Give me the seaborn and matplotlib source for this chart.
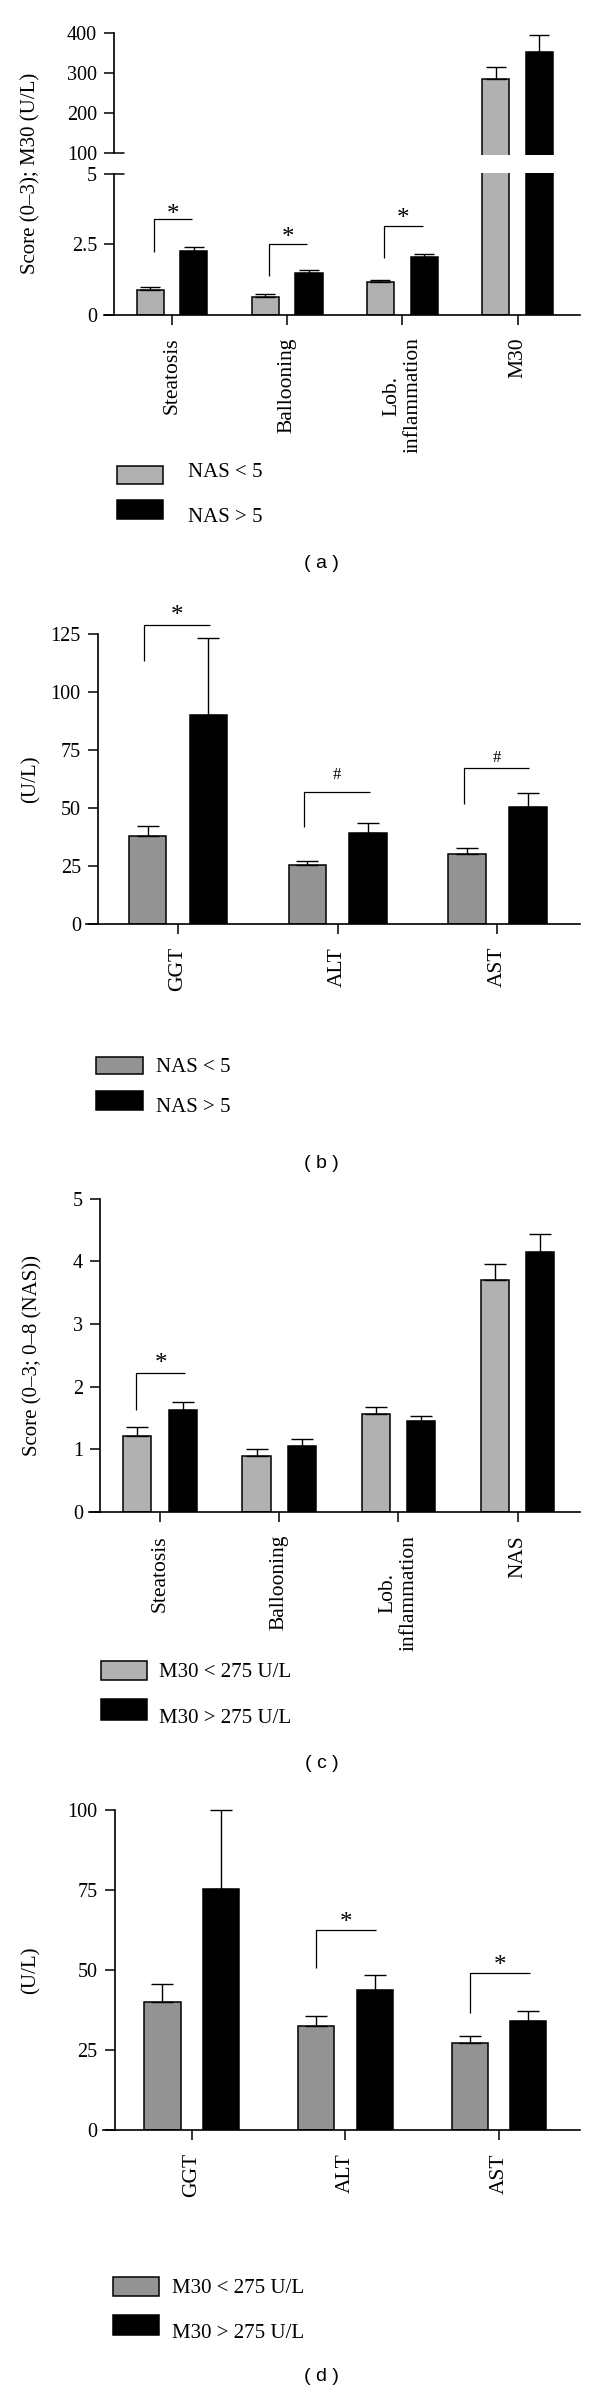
import numpy as np
import pandas as pd
import matplotlib
matplotlib.use("Agg")
import matplotlib.pyplot as plt
import seaborn as sns
from matplotlib.patches import Rectangle
from matplotlib.transforms import offset_copy

# ---------------- data ----------------
# (a) NAS groups: histology scores and M30
a_categories = ["Steatosis", "Ballooning", "Lob.\ninflammation", "M30"]
a_groups = ["NAS < 5", "NAS > 5"]
a_low_mean = [0.88, 0.63, 1.16, 284]
a_low_sem = [0.09, 0.09, 0.08, 30]
a_high_mean = [2.25, 1.49, 2.06, 351]
a_high_sem = [0.14, 0.09, 0.11, 43]
a_sig_cat = [0, 1, 2]
a_sig_bottom = [2.23, 1.36, 2.00]
a_sig_top = [3.38, 2.49, 3.13]
a_sig_mark = ["*", "*", "*"]

# (b) NAS groups: liver enzymes
b_categories = ["GGT", "ALT", "AST"]
b_groups = ["NAS < 5", "NAS > 5"]
b_low_mean = [37.8, 25.3, 30.2]
b_low_sem = [4.3, 1.9, 2.5]
b_high_mean = [90.2, 39.3, 50.5]
b_high_sem = [33.2, 4.3, 5.9]
b_sig_cat = [0, 1, 2]
b_sig_bottom = [113.6, 42.0, 51.9]
b_sig_top = [129.0, 57.1, 67.5]
b_sig_mark = ["*", "#", "#"]

# (c) M30 groups: histology scores and NAS
c_categories = ["Steatosis", "Ballooning", "Lob.\ninflammation", "NAS"]
c_groups = ["M30 < 275 U/L", "M30 > 275 U/L"]
c_low_mean = [1.22, 0.89, 1.56, 3.71]
c_low_sem = [0.14, 0.12, 0.11, 0.24]
c_high_mean = [1.62, 1.05, 1.45, 4.15]
c_high_sem = [0.14, 0.12, 0.09, 0.28]
c_sig_cat = [0]
c_sig_bottom = [1.63]
c_sig_top = [2.22]
c_sig_mark = ["*"]

# (d) M30 groups: liver enzymes
d_categories = ["GGT", "ALT", "AST"]
d_groups = ["M30 < 275 U/L", "M30 > 275 U/L"]
d_low_mean = [40.0, 32.6, 27.3]
d_low_sem = [5.5, 3.0, 2.1]
d_high_mean = [75.4, 43.8, 34.1]
d_high_sem = [24.6, 4.5, 3.2]
d_sig_cat = [1, 2]
d_sig_bottom = [50.5, 36.7]
d_sig_top = [62.5, 49.1]
d_sig_mark = ["*", "*"]

# ---------------- style ----------------
sns.set_style("ticks")
plt.rcParams["font.family"] = ["Liberation Serif", "DejaVu Serif"]
plt.rcParams["axes.edgecolor"] = "black"
plt.rcParams["xtick.color"] = "black"
plt.rcParams["ytick.color"] = "black"
plt.rcParams["text.color"] = "black"

W, H = 600, 2394
fig = plt.figure(figsize=(W / 100, H / 100), dpi=100)
fig.patch.set_facecolor("white")

LIGHT = "#b1b1b1"
MID = "#939393"
TICK_FS = 14.5
CAT_FS = 15.5
LAB_FS = 15
LEG_FS = 15


def px_ax(x0, top, x1, bottom):
    return fig.add_axes([x0 / W, 1 - bottom / H, (x1 - x0) / W, (bottom - top) / H])


def draw_bars(ax, cats, groups, m1, s1, m2, s2, gray, capsize, clip=True):
    n = len(cats)
    df = pd.DataFrame({
        "cat": list(cats) * 2,
        "grp": [groups[0]] * n + [groups[1]] * n,
        "val": list(m1) + list(m2),
    })
    sns.barplot(data=df, x="cat", y="val", hue="grp", order=cats, hue_order=groups,
                palette=[gray, "black"], saturation=1, width=0.76, gap=0.38,
                edgecolor="black", linewidth=1.1, errorbar=None, legend=False, ax=ax)
    for cont, sems in zip(ax.containers, [s1, s2]):
        xs = [b.get_x() + b.get_width() / 2 for b in cont]
        hs = [b.get_height() for b in cont]
        ax.errorbar(xs, hs, yerr=[np.zeros(n), sems], fmt="none", ecolor="black",
                    elinewidth=1.0, capsize=capsize, capthick=1.0, clip_on=clip, zorder=3)
    ax.set_xlabel("")
    ax.set_ylabel("")


def style_ax(ax, xlim, ylim, bounds, yticks, yticklabels, show_x=True, cats=None):
    ax.set_xlim(*xlim)
    ax.set_ylim(*ylim)
    ax.set_facecolor("none")
    ax.grid(False)
    for s in ["top", "right"]:
        ax.spines[s].set_visible(False)
    ax.spines["left"].set_position(("data", -0.5))
    ax.spines["left"].set_bounds(*bounds)
    ax.spines["left"].set_linewidth(1.2)
    ax.spines["bottom"].set_linewidth(1.2)
    ax.set_yticks(yticks)
    ax.set_yticklabels(yticklabels, fontsize=TICK_FS)
    ax.tick_params(axis="y", length=7.5, width=1.1, pad=5, direction="out")
    if show_x:
        ax.set_xticks(range(len(cats)))
        ax.set_xticklabels(cats, rotation=90, ha="center", va="top",
                           multialignment="center", fontsize=CAT_FS)
        ax.tick_params(axis="x", length=7.5, width=1.1, pad=9, direction="out")
    else:
        ax.spines["bottom"].set_visible(False)
        ax.set_xticks([])


def brackets(ax, cats_idx, bottoms, tops, x0, x1):
    for c, yb, yt in zip(cats_idx, bottoms, tops):
        ax.plot([c + x0, c + x0, c + x1], [yb, yt, yt], color="black", lw=0.9,
                clip_on=False, zorder=4, solid_capstyle="butt")


def sig_marks(ax, cats_idx, tops, marks, x0, x1, gaps):
    # gaps: vertical distance (in data units) from bracket line to glyph centre
    for c, yt, mk, g in zip(cats_idx, tops, marks, gaps):
        if mk == "*":
            fs, cfrac = 18, 0.47
        else:
            fs, cfrac = 12, 0.34
        tr = offset_copy(ax.transData, fig=fig, y=-cfrac * fs, units="points")
        ax.text(c + (x0 + x1) / 2, yt + g, mk, transform=tr, ha="center",
                va="baseline", fontsize=fs, clip_on=False, zorder=4)


def legend_px(rects, colors, labels, tx, centers):
    em = LEG_FS * 100 / 72
    for (x0, y0, x1, y1), col in zip(rects, colors):
        fig.add_artist(Rectangle((x0 / W, 1 - y1 / H), (x1 - x0) / W, (y1 - y0) / H,
                                 transform=fig.transFigure, facecolor=col,
                                 edgecolor="black", lw=1.1))
    for lab, yc in zip(labels, centers):
        fig.text(tx / W, 1 - (yc + 0.331 * em) / H, lab, ha="left", va="baseline",
                 fontsize=LEG_FS)


def caption(txt, xc, yc):
    fig.text(xc / W, 1 - yc / H, txt, ha="center", va="center", fontsize=14,
             family=["Liberation Sans", "DejaVu Sans"])


def ylabel(txt, xc, yc):
    fig.text(xc / W, 1 - yc / H, txt, ha="center", va="center", rotation=90,
             fontsize=LAB_FS)


# ---------------- panel (a): broken axis ----------------
ax_up = px_ax(104, 32.7, 580, 155.1)
ax_lo = px_ax(104, 172.6, 580, 314.7)
for ax in (ax_up, ax_lo):
    draw_bars(ax, a_categories, a_groups, a_low_mean, a_low_sem, a_high_mean, a_high_sem,
              LIGHT, capsize=7.0, clip=True)
style_ax(ax_up, (-0.59, 3.542), (94, 400), (100, 400), [100, 200, 300, 400],
         ["100", "200", "300", "400"], show_x=False)
style_ax(ax_lo, (-0.59, 3.542), (0, 5.04), (0, 5), [0, 2.5, 5], ["0", "2.5", "5"],
         show_x=True, cats=a_categories)
# axis-break marks
ax_up.plot([-0.5, -0.42], [100, 100], color="black", lw=1.1, clip_on=False)
ax_lo.plot([-0.5, -0.42], [5, 5], color="black", lw=1.1, clip_on=False)
brackets(ax_lo, a_sig_cat, a_sig_bottom, a_sig_top, -0.16, 0.175)
sig_marks(ax_lo, a_sig_cat, a_sig_top, a_sig_mark, -0.16, 0.175, [0.355, 0.45, 0.46])
ylabel("Score (0–3); M30 (U/L)", 31, 173.7)
legend_px([(116.7, 466, 163.3, 484), (116.7, 500, 163.3, 519)], [LIGHT, "black"],
          a_groups, 188.3, [470.5, 515.5])
caption("( a )", 321.7, 563.3)

# ---------------- panel (b) ----------------
ax_b = px_ax(86, 634.3, 580, 924)
draw_bars(ax_b, b_categories, b_groups, b_low_mean, b_low_sem, b_high_mean, b_high_sem,
          MID, capsize=8.0, clip=False)
style_ax(ax_b, (-0.576, 2.517), (0, 125), (0, 125), [0, 25, 50, 75, 100, 125],
         ["0", "25", "50", "75", "100", "125"], show_x=True, cats=b_categories)
brackets(ax_b, b_sig_cat, b_sig_bottom, b_sig_top, -0.21, 0.2)
sig_marks(ax_b, b_sig_cat, b_sig_top, b_sig_mark, -0.21, 0.2, [6.2, 7.9, 5.0])
ylabel("(U/L)", 30.6, 779)
legend_px([(95.7, 1056.8, 142.7, 1074.4), (95.7, 1091.3, 142.7, 1109.7)], [MID, "black"],
          b_groups, 156.1, [1065.3, 1105])
caption("( b )", 321.5, 1163.6)

# ---------------- panel (c) ----------------
ax_c = px_ax(89.3, 1198.7, 580, 1512)
draw_bars(ax_c, c_categories, c_groups, c_low_mean, c_low_sem, c_high_mean, c_high_sem,
          LIGHT, capsize=8.0, clip=False)
style_ax(ax_c, (-0.593, 3.524), (0, 5), (0, 5), [0, 1, 2, 3, 4, 5],
         ["0", "1", "2", "3", "4", "5"], show_x=True, cats=c_categories)
brackets(ax_c, c_sig_cat, c_sig_bottom, c_sig_top, -0.2, 0.21)
sig_marks(ax_c, c_sig_cat, c_sig_top, c_sig_mark, -0.2, 0.21, [0.23])
ylabel("Score (0–3; 0–8 (NAS))", 32.5, 1355)
legend_px([(100.6, 1661.4, 147.3, 1679.8), (100.6, 1699, 147.3, 1719.6)], [LIGHT, "black"],
          c_groups, 158.8, [1670.6, 1715.8])
caption("( c )", 321.5, 1763.6)

# ---------------- panel (d) ----------------
ax_d = px_ax(102.7, 1809.7, 580, 2130.3)
draw_bars(ax_d, d_categories, d_groups, d_low_mean, d_low_sem, d_high_mean, d_high_sem,
          MID, capsize=8.0, clip=False)
style_ax(ax_d, (-0.579, 2.526), (0, 100), (0, 100), [0, 25, 50, 75, 100],
         ["0", "25", "50", "75", "100"], show_x=True, cats=d_categories)
brackets(ax_d, d_sig_cat, d_sig_bottom, d_sig_top, -0.19, 0.2)
sig_marks(ax_d, d_sig_cat, d_sig_top, d_sig_mark, -0.19, 0.2, [4.1, 4.0])
ylabel("(U/L)", 31.4, 1970)
legend_px([(113.3, 2276.7, 159, 2296), (113.3, 2315, 159, 2335)], [MID, "black"],
          d_groups, 171.7, [2286.3, 2330.8])
caption("( d )", 321.7, 2376.7)

fig.savefig("out.png", dpi=100, facecolor="white")
